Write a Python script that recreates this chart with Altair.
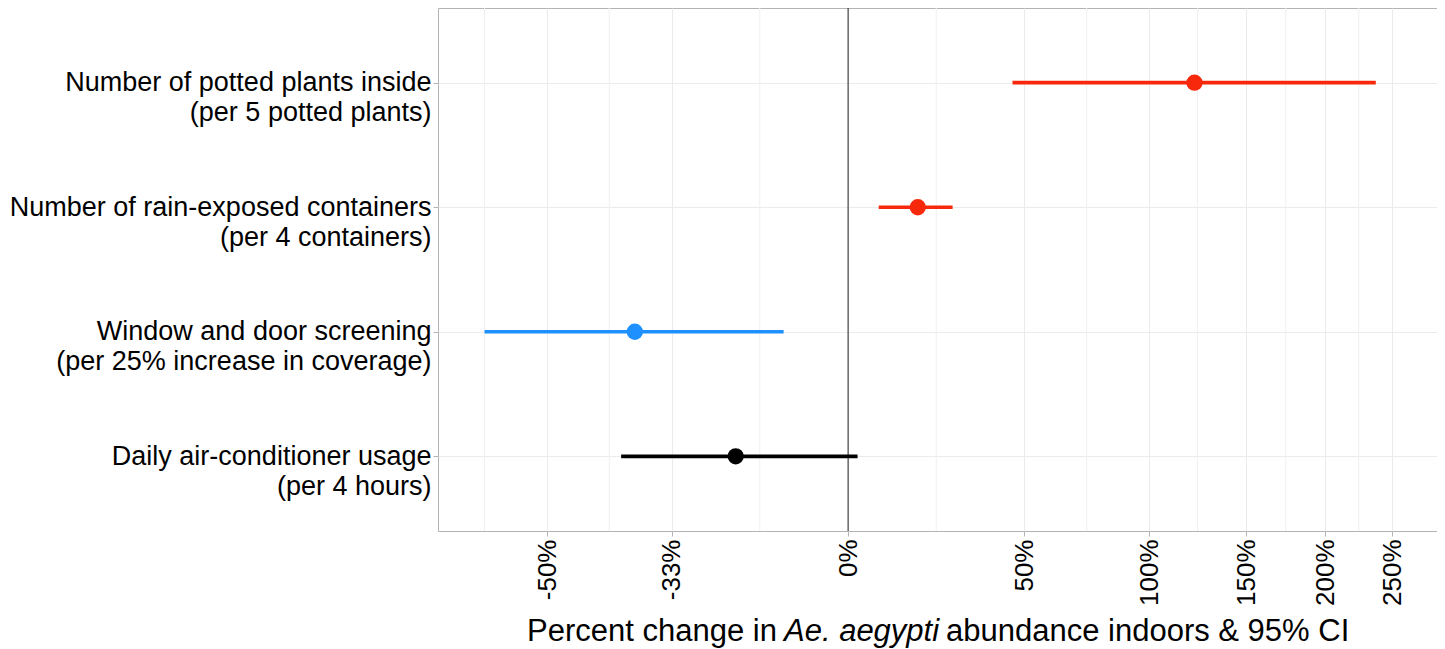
import altair as alt
import pandas as pd

# ---- data ----
labels = [
    "Number of potted plants inside\n(per 5 potted plants)",
    "Number of rain-exposed containers\n(per 4 containers)",
    "Window and door screening\n(per 25% increase in coverage)\u00a0",
    "Daily air-conditioner usage\n(per 4 hours)",
]
estimate = [2.22, 1.174, 0.612, 0.772]   # rate ratio (1 = 0% change)
ci_low = [1.46, 1.073, 0.433, 0.593]
ci_high = [3.37, 1.272, 0.862, 1.022]
colors = ["#F8280C", "#F8280C", "#1E90FF", "#000000"]

tick_values = [0.5, 2 / 3, 1.0, 1.5, 2.0, 2.5, 3.0, 3.5]
tick_labels = ["-50%", "-33%", "0%", "50%", "100%", "150%", "200%", "250%"]
minor_breaks = [0.433, 0.577, 0.816, 1.225, 1.732, 2.236, 2.739, 3.24]
ref_value = [1.0]
x_domain = [0.389, 3.88]
title_parts = ["Percent change in", "Ae. aegypti", "abundance indoors & 95% CI"]

FONT = "Liberation Sans"

df = pd.DataFrame({"label": labels, "est": estimate, "lo": ci_low, "hi": ci_high, "color": colors})

label_expr = "''"
for v, l in reversed(list(zip(tick_values, tick_labels))):
    label_expr = f"abs(datum.value - {v}) < 1e-6 ? '{l}' : ({label_expr})"

x_scale = alt.Scale(type="log", domain=x_domain, nice=False)
x_axis = alt.Axis(
    values=tick_values, labelExpr=label_expr, labelAngle=-90, labelFontSize=26,
    labelFont=FONT, labelColor="black", title=None, grid=True, gridColor="#EBEBEB",
    gridWidth=1, tickColor="#B3B3B3", tickSize=5, labelPadding=3, domain=False,
)

minor = alt.Chart(pd.DataFrame({"v": minor_breaks})).mark_rule(
    color="#F0F0F0", strokeWidth=1
).encode(x=alt.X("v:Q", scale=x_scale, axis=x_axis))

ref = alt.Chart(pd.DataFrame({"v": ref_value})).mark_rule(
    color="#222222", strokeWidth=1
).encode(x="v:Q")

y_enc = alt.Y(
    "label:N", sort=labels, scale=alt.Scale(type="point", padding=0.6),
    axis=alt.Axis(
        title=None, labelExpr="split(datum.label, '\\n')", labelFontSize=27,
        labelFont=FONT, labelColor="black", labelLineHeight=30, labelPadding=2,
        labelLimit=700, tickSize=5, tickColor="#B3B3B3", grid=True,
        gridColor="#EBEBEB", domain=False,
    ),
)

bars = alt.Chart(df).mark_rule(strokeWidth=3.7, strokeCap="butt").encode(
    x="lo:Q", x2="hi:Q", y=y_enc, color=alt.Color("color:N", scale=None)
)

points = alt.Chart(df).mark_circle(size=265, opacity=1).encode(
    x="est:Q", y=alt.Y("label:N", sort=labels), color=alt.Color("color:N", scale=None)
)

TITLE_Y = 633
t_left = alt.Chart(pd.DataFrame({"t": [title_parts[0]]})).mark_text(
    align="right", baseline="alphabetic", fontSize=31, font=FONT, color="black"
).encode(x=alt.value(339), y=alt.value(TITLE_Y), text="t:N")

t_mid = alt.Chart(pd.DataFrame({"t": [title_parts[1]]})).mark_text(
    align="left", baseline="alphabetic", fontSize=31, font=FONT, fontStyle="italic", color="black"
).encode(x=alt.value(346), y=alt.value(TITLE_Y), text="t:N")

t_right = alt.Chart(pd.DataFrame({"t": [title_parts[2]]})).mark_text(
    align="left", baseline="alphabetic", fontSize=31, font=FONT, color="black"
).encode(x=alt.value(508), y=alt.value(TITLE_Y), text="t:N")

chart = alt.layer(minor, ref, bars, points, t_left, t_mid, t_right).properties(
    width=999, height=523,
    autosize=alt.AutoSizeParams(type="none"),
    padding={"left": 430, "top": 0, "right": 0, "bottom": 117},
).configure_view(stroke="#B3B3B3", strokeWidth=1).configure_axis(labelFont=FONT)

chart.save("out.html", embed_options={"renderer": "svg", "actions": False})
